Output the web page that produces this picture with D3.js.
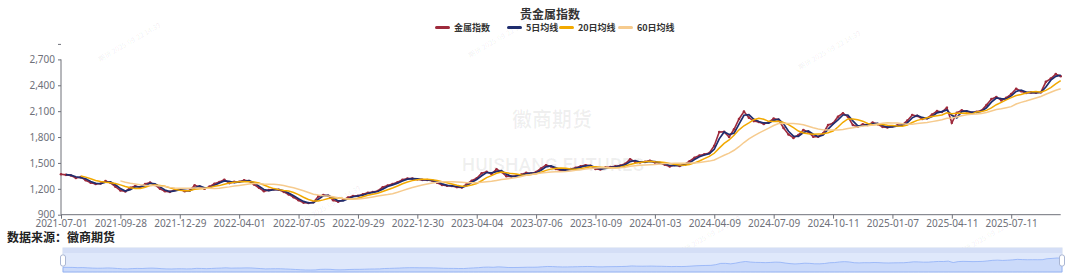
<!DOCTYPE html>
<html>
<head>
<meta charset="utf-8">
<script src="https://cdn.jsdelivr.net/npm/d3@7/dist/d3.min.js"></script>
<style>
  html, body { margin: 0; padding: 0; background: #fff; }
  svg { display: block; font-family: "Noto Sans CJK SC", "Noto Sans", sans-serif; }
  .axis text { fill: #6E7079; font-size: 10px; font-family: "Noto Sans", sans-serif; }
  .axis path, .axis line { stroke: #6E7079; }
</style>
</head>
<body>
<div id="figure-container"></div>
<script>
// 贵金属指数, one value every 5 trading days (index 0..1010)
var step = 5;
var indexValues = [
  1368, 1362, 1355, 1325, 1335, 1300, 1270, 1256, 1262, 1290,
  1270, 1225, 1180, 1170, 1212, 1233, 1218, 1255, 1272, 1245,
  1200, 1172, 1165, 1186, 1192, 1172, 1180, 1240, 1225, 1200,
  1225, 1258, 1278, 1305, 1266, 1280, 1282, 1298, 1290, 1250,
  1212, 1172, 1185, 1194, 1190, 1165, 1135, 1102, 1068, 1040,
  1035, 1045, 1112, 1128, 1120, 1068, 1051, 1070, 1100, 1117,
  1118, 1136, 1155, 1162, 1175, 1218, 1237, 1255, 1276, 1305,
  1318, 1320, 1310, 1304, 1302, 1295, 1271, 1244, 1235, 1233,
  1220, 1215, 1258, 1293, 1322, 1380, 1398, 1372, 1426, 1395,
  1345, 1343, 1352, 1365, 1385, 1378, 1395, 1436, 1474, 1458,
  1430, 1414, 1418, 1430, 1444, 1460, 1474, 1466, 1430, 1425,
  1447, 1452, 1460, 1470, 1490, 1542, 1514, 1507, 1512, 1526,
  1506, 1500, 1480, 1460, 1476, 1465, 1482, 1520, 1560, 1585,
  1600, 1615, 1700, 1858, 1860, 1800, 1890, 2010, 2095, 2025,
  1985, 1975, 1952, 1972, 2015, 2000, 1905, 1830, 1790, 1824,
  1882, 1860, 1804, 1804, 1843, 1940, 1960, 2036, 2075, 2036,
  1940, 1920, 1948, 1940, 1968, 1950, 1918, 1910, 1925, 1935,
  1940, 1990, 2055, 2045, 2010, 2018, 2060, 2100, 2090, 2140,
  1965, 2080, 2110, 2096, 2080, 2092, 2108, 2170, 2240, 2265,
  2225, 2255, 2298, 2360, 2330, 2312, 2318, 2314, 2320, 2440,
  2478, 2530, 2505
];
var lastDay = 1010;

// x axis labels, one every 60 trading days
var tickDays = [0, 60, 120, 180, 240, 300, 360, 420, 480, 540, 600, 660, 720, 780, 840, 900, 960];
var tickLabels = [
  '2021-07-01', '2021-09-28', '2021-12-29', '2022-04-01', '2022-07-05', '2022-09-29',
  '2022-12-30', '2023-04-04', '2023-07-06', '2023-10-09', '2024-01-03', '2024-04-09',
  '2024-07-09', '2024-10-11', '2025-01-07', '2025-04-11', '2025-07-11'
];
var yTicks = [900, 1200, 1500, 1800, 2100, 2400, 2700];

var seriesNames = ['金属指数', '5日均线', '20日均线', '60日均线'];
var seriesColors = ['#9E2A3C', '#1F2D6E', '#F2A900', '#F6CB8E'];
var maWindows = [5, 20, 60];

var fullWidth = 1080;
var fullHeight = 279;
var margin = {top: 59.4, right: 19.3, bottom: 64.3, left: 61};
var width = fullWidth - margin.left - margin.right;
var height = fullHeight - margin.top - margin.bottom;

var points = indexValues.map(function(v, i) { return {day: i * step, value: v}; });

// moving average over the last w trading days of samples
function movingAverage(w) {
  var n = w / step;
  var out = [];
  for (var k = n; k < points.length; k++) {
    var sum = 0;
    for (var j = k - n; j <= k; j++) sum += points[j].value;
    out.push({day: points[k].day, value: sum / (n + 1)});
  }
  return out;
}

var xScale = d3.scaleLinear()
  .domain([0, lastDay])
  .range([0, width]);

var yScale = d3.scaleLinear()
  .domain([900, 2700])
  .range([height, 0]);

var svg = d3.select('#figure-container')
  .append('svg')
  .attr('width', fullWidth)
  .attr('height', fullHeight);

// watermarks
svg.append('text')
  .attr('x', 552).attr('y', 127)
  .attr('text-anchor', 'middle')
  .attr('font-size', 20)
  .attr('font-weight', 'bold')
  .attr('fill', '#000').attr('fill-opacity', 0.06)
  .text('徽商期货');
svg.append('text')
  .attr('x', 553).attr('y', 171)
  .attr('text-anchor', 'middle')
  .attr('font-size', 19)
  .attr('font-family', 'Roboto, sans-serif')
  .attr('font-weight', 'bold')
  .attr('fill', '#000').attr('fill-opacity', 0.06)
  .text('HUISHANG FUTURES');

var marks = [[100, 62], [470, 58], [300, 225], [800, 70], [680, 255], [960, 255]];
svg.append('g')
  .selectAll('text')
  .data(marks)
  .enter()
    .append('text')
    .attr('transform', function(d) { return 'translate(' + d[0] + ',' + d[1] + ') rotate(-30)'; })
    .attr('font-size', 7)
    .attr('fill', '#000').attr('fill-opacity', 0.07)
    .text('期货 2025-09-22 14:39');

// title + legend
svg.append('text')
  .attr('x', 550).attr('y', 18.5)
  .attr('text-anchor', 'middle')
  .attr('font-size', 12)
  .attr('font-weight', 'bold')
  .attr('fill', '#333')
  .text('贵金属指数');

var legendX = [435, 507, 559, 618];
var legend = svg.append('g')
  .selectAll('g')
  .data(seriesNames)
  .enter()
    .append('g')
    .attr('transform', function(d, i) { return 'translate(' + legendX[i] + ',27.5)'; });
legend.append('rect')
  .attr('x', 0).attr('y', -1.5)
  .attr('width', 15).attr('height', 3).attr('rx', 1.5)
  .attr('fill', function(d, i) { return seriesColors[i]; });
legend.append('text')
  .attr('x', 19).attr('y', 3.3)
  .attr('font-size', 9)
  .attr('font-weight', 'bold')
  .attr('fill', '#333')
  .text(function(d) { return d; });

var chart = svg.append('g')
  .attr('transform', `translate(${margin.left},${margin.top})`);

chart.append('g')
  .attr('class', 'axis y')
  .call(d3.axisLeft(yScale).tickValues(yTicks).tickSize(3).tickPadding(3).tickFormat(d3.format(',')))
  .call(function(g) { g.select('.domain').attr('d', 'M0,0V' + height); });

chart.append('line')
  .attr('x1', -3).attr('x2', 0)
  .attr('y1', -15).attr('y2', -15)
  .attr('stroke', '#6E7079');

chart.append('g')
  .attr('class', 'axis x')
  .attr('transform', `translate(0,${height})`)
  .call(d3.axisBottom(xScale).tickValues(tickDays).tickSize(4).tickPadding(1)
    .tickFormat(function(d, i) { return tickLabels[i]; }))
  .call(function(g) { g.select('.domain').attr('d', 'M0,0H' + width); });

var line = d3.line()
  .x(function(d) { return xScale(d.day); })
  .y(function(d) { return yScale(d.value); });

chart.append('path')
  .datum(points)
  .attr('fill', 'none')
  .attr('stroke', seriesColors[0])
  .attr('stroke-width', 1.6)
  .attr('d', line);

chart.append('g')
  .selectAll('circle')
  .data(points)
  .enter()
    .append('circle')
    .attr('cx', function(d) { return xScale(d.day); })
    .attr('cy', function(d) { return yScale(d.value); })
    .attr('r', 1.3)
    .attr('fill', seriesColors[0]);

maWindows.forEach(function(w, i) {
  chart.append('path')
    .datum(movingAverage(w))
    .attr('fill', 'none')
    .attr('stroke', seriesColors[i + 1])
    .attr('stroke-width', i === 0 ? 1.7 : 1.5)
    .attr('d', line);
});

// source note
svg.append('text')
  .attr('x', 7).attr('y', 242)
  .attr('font-size', 12)
  .attr('font-weight', 'bold')
  .attr('fill', '#222')
  .text('数据来源：徽商期货');

// data zoom slider
var zoomBox = {x: 63, y: 248, w: 999, h: 24};
var sx = d3.scaleLinear().domain([0, lastDay]).range([zoomBox.x, zoomBox.x + zoomBox.w]);
var sy = d3.scaleLinear().domain(d3.extent(indexValues)).range([zoomBox.y + zoomBox.h - 2, zoomBox.y + 10]);

svg.append('rect')
  .attr('x', zoomBox.x).attr('y', zoomBox.y)
  .attr('width', zoomBox.w).attr('height', zoomBox.h)
  .attr('fill', '#dfe8fb')
  .attr('stroke', '#d2dbee');
svg.append('rect')
  .attr('x', zoomBox.x).attr('y', zoomBox.y)
  .attr('width', zoomBox.w).attr('height', 5)
  .attr('fill', '#d4def6');

svg.append('path')
  .datum(points)
  .attr('fill', '#8fb0f7').attr('fill-opacity', 0.25)
  .attr('stroke', '#8fb0f7').attr('stroke-width', 0.8)
  .attr('d', d3.area()
    .x(function(d) { return sx(d.day); })
    .y0(zoomBox.y + zoomBox.h)
    .y1(function(d) { return sy(d.value); }));

svg.append('g')
  .selectAll('rect')
  .data([0, lastDay])
  .enter()
    .append('rect')
    .attr('x', function(d) { return sx(d) - 2.5; })
    .attr('y', zoomBox.y + 7)
    .attr('width', 5).attr('height', 11).attr('rx', 2)
    .attr('fill', '#fff')
    .attr('stroke', '#aab6d3');
</script>
</body>
</html>
